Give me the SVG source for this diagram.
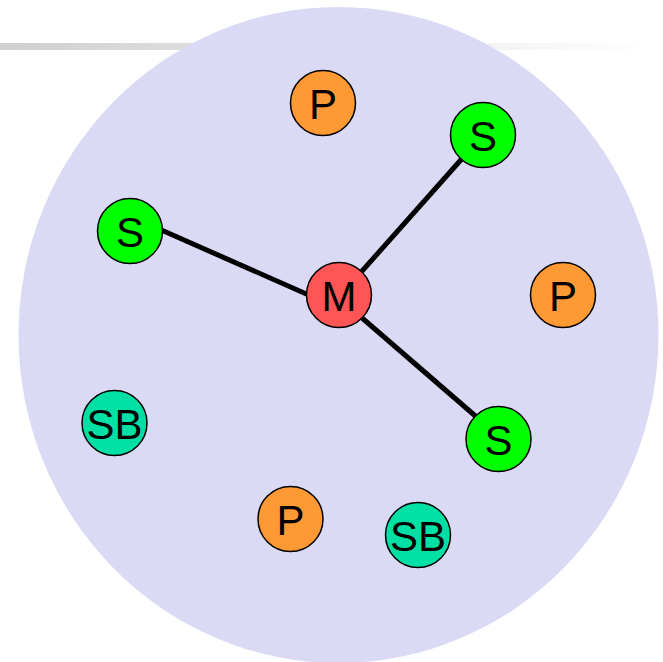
<svg xmlns="http://www.w3.org/2000/svg" width="663" height="662" viewBox="0 0 663 662">
  <defs>
    <linearGradient id="bar" x1="0" y1="0" x2="1" y2="0">
      <stop offset="0" stop-color="#cfcfcf"/>
      <stop offset="1" stop-color="#ffffff"/>
    </linearGradient>
  </defs>
  <style>
    .node circle { stroke: #000; stroke-width: 1.5; }
    .node text { font-family: "Liberation Sans", Arial, sans-serif; font-size: 42px; fill: #000; text-anchor: middle; }
    .p circle { fill: #ff9933; }
    .s circle { fill: #00ff00; }
    .m circle { fill: #ff5555; }
    .sb circle { fill: #00e0a4; }
    .edge { stroke: #000; stroke-width: 5; fill: none; }
  </style>
  <rect x="0" y="43" width="650" height="7" fill="url(#bar)"/>
  <ellipse id="region" cx="338.5" cy="335" rx="320" ry="328" fill="#dadaf5"/>
  <g id="connectors">
    <line class="edge" x1="150" y1="225" x2="320" y2="300"/>
    <line class="edge" x1="339" y1="297" x2="483" y2="135"/>
    <line class="edge" x1="339" y1="298" x2="498.5" y2="436"/>
  </g>
  <g id="p1" class="node p"><circle cx="323" cy="103" r="32.5"/><text x="323" y="119">P</text></g>
  <g id="s1" class="node s"><circle cx="483" cy="135" r="32.5"/><text x="483" y="151">S</text></g>
  <g id="s2" class="node s"><circle cx="130" cy="231" r="32.5"/><text x="130" y="247">S</text></g>
  <g id="m" class="node m"><circle cx="339" cy="295" r="32.5"/><text x="339" y="311">M</text></g>
  <g id="p2" class="node p"><circle cx="563" cy="295" r="32.5"/><text x="563" y="311">P</text></g>
  <g id="sb1" class="node sb"><circle cx="114.5" cy="423" r="32.5"/><text x="114.5" y="439">SB</text></g>
  <g id="s3" class="node s"><circle cx="498.5" cy="439" r="32.5"/><text x="498.5" y="455">S</text></g>
  <g id="p3" class="node p"><circle cx="290.5" cy="519" r="32.5"/><text x="290.5" y="535">P</text></g>
  <g id="sb2" class="node sb"><circle cx="418" cy="535" r="32.5"/><text x="418" y="551">SB</text></g>
</svg>
